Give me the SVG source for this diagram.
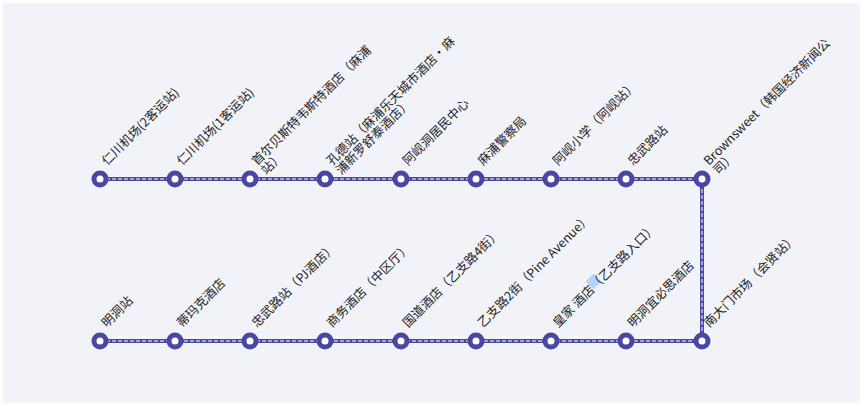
<svg xmlns="http://www.w3.org/2000/svg" width="863" height="406" viewBox="0 0 863 406">
<style>
.bg{fill:#f2f3f8}
.ln{fill:none;stroke:#4a47a3;stroke-width:4}
.lc{fill:none;stroke:#fff;stroke-width:1;stroke-dasharray:4 2}
.st{fill:#fff;stroke:#4a47a3;stroke-width:5}
text{font-family:"Noto Sans CJK SC","Noto Sans",sans-serif;font-size:12.5px;fill:#222}
</style>
<rect class="bg" x="3" y="3" width="857" height="400"/>
<g id="connectors">
<path class="ln" d="M100 179H702V341H100"/>
<path class="lc" d="M100 179H702V341H100"/>
</g>
<rect x="588" y="276" width="11" height="11" fill="#b3d4fc" transform="rotate(-45 593.5 281.5)"/>
<g id="n1"><circle class="st" cx="100" cy="179" r="6"/><text transform="translate(107 166) rotate(-45)">仁川机场(2客运站)</text></g>
<g id="n2"><circle class="st" cx="175" cy="179" r="6"/><text transform="translate(182 166) rotate(-45)">仁川机场(1客运站)</text></g>
<g id="n3"><circle class="st" cx="250" cy="179" r="6"/><text transform="translate(257 166) rotate(-45)">首尔贝斯特韦斯特酒店（麻浦<tspan x="0" dy="13">站）</tspan></text></g>
<g id="n4"><circle class="st" cx="325" cy="179" r="6"/><text transform="translate(332 166) rotate(-45)">孔德站（麻浦乐天城市酒店・麻<tspan x="0" dy="13">浦新罗舒泰酒店）</tspan></text></g>
<g id="n5"><circle class="st" cx="401" cy="179" r="6"/><text transform="translate(408 166) rotate(-45)">阿岘洞居民中心</text></g>
<g id="n6"><circle class="st" cx="476" cy="179" r="6"/><text transform="translate(483 166) rotate(-45)">麻浦警察局</text></g>
<g id="n7"><circle class="st" cx="551" cy="179" r="6"/><text transform="translate(558 166) rotate(-45)">阿岘小学（阿岘站）</text></g>
<g id="n8"><circle class="st" cx="626" cy="179" r="6"/><text transform="translate(633 166) rotate(-45)">忠武路站</text></g>
<g id="n9"><circle class="st" cx="702" cy="179" r="6"/><text transform="translate(709 166) rotate(-45)">Brownsweet（韩国经济新闻公<tspan x="0" dy="13">司）</tspan></text></g>
<g id="s1"><circle class="st" cx="100" cy="341" r="6"/><text transform="translate(107 328) rotate(-45)">明洞站</text></g>
<g id="s2"><circle class="st" cx="175" cy="341" r="6"/><text transform="translate(182 328) rotate(-45)">蒂玛克酒店</text></g>
<g id="s3"><circle class="st" cx="250" cy="341" r="6"/><text transform="translate(257 328) rotate(-45)">忠武路站（PJ酒店）</text></g>
<g id="s4"><circle class="st" cx="325" cy="341" r="6"/><text transform="translate(332 328) rotate(-45)">商务酒店（中区厅）</text></g>
<g id="s5"><circle class="st" cx="401" cy="341" r="6"/><text transform="translate(408 328) rotate(-45)">国道酒店（乙支路4街）</text></g>
<g id="s6"><circle class="st" cx="476" cy="341" r="6"/><text transform="translate(483 328) rotate(-45)">乙支路2街（Pine Avenue）</text></g>
<g id="s7"><circle class="st" cx="551" cy="341" r="6"/><text transform="translate(558 328) rotate(-45)">皇家 酒店（乙支路入口）</text></g>
<g id="s8"><circle class="st" cx="626" cy="341" r="6"/><text transform="translate(633 328) rotate(-45)">明洞宜必思酒店</text></g>
<g id="s9"><circle class="st" cx="702" cy="341" r="6"/><text transform="translate(709 328) rotate(-45)">南大门市场（会贤站）</text></g>
</svg>
